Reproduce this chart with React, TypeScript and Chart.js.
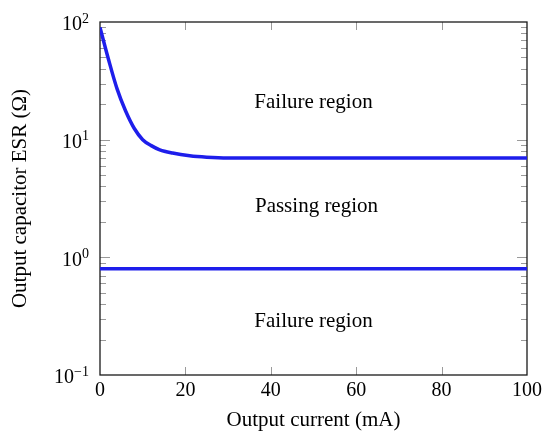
import React, { useEffect, useRef } from "react";
import { Chart, registerables } from "chart.js";

Chart.register(...registerables);

// Upper stability limit (ESR above this -> failure)
const currentMa = [0, 2, 4, 6, 8, 10, 12, 14, 17, 21, 25, 30, 40, 60, 80, 100];
const esrUpper = [90, 48, 27, 17.5, 12.5, 10, 8.9, 8.2, 7.7, 7.3, 7.1, 7.0, 7.0, 7.0, 7.0, 7.0];

// Lower stability limit (ESR below this -> failure)
const lowerCurrent = [0, 100];
const esrLower = [0.8, 0.8];

const xTickValues = [0, 20, 40, 60, 80, 100];
const yTickValues = [0.1, 1, 10, 100];
const yTickBase = "10";
const yTickExponents = ["−1", "0", "1", "2"];

const regionLabels = ["Failure region", "Passing region", "Failure region"];
const regionX = [50, 50.7, 50];
const regionY = [20.5, 2.68, 0.285];

const SERIF = "'Liberation Serif', 'Times New Roman', serif";
const LINE_COLOR = "rgb(30, 30, 235)";

const framePlugin = {
  id: "frameAndTicks",
  beforeDatasetsDraw(chart: any) {
    const { ctx, chartArea } = chart;
    const { left, right, top, bottom } = chartArea;
    const xs = chart.scales.x;
    const ys = chart.scales.y;
    ctx.save();
    ctx.strokeStyle = "#9a9a9a";
    ctx.lineWidth = 1;
    // x ticks, inward at top and bottom
    xTickValues.forEach((v) => {
      if (v === xTickValues[0] || v === xTickValues[xTickValues.length - 1]) return;
      const px = Math.round(xs.getPixelForValue(v)) + 0.5;
      ctx.beginPath();
      ctx.moveTo(px, bottom);
      ctx.lineTo(px, bottom - 8);
      ctx.moveTo(px, top);
      ctx.lineTo(px, top + 8);
      ctx.stroke();
    });
    // y ticks, major + minor, inward at left and right
    for (let d = 0; d < yTickValues.length - 1; d++) {
      const base = yTickValues[d];
      for (let m = 1; m <= 9; m++) {
        if (m === 1 && d === 0) continue;
        const py = Math.round(ys.getPixelForValue(base * m)) + 0.5;
        const len = m === 1 ? 10 : 6;
        ctx.beginPath();
        ctx.moveTo(left, py);
        ctx.lineTo(left + len, py);
        ctx.moveTo(right, py);
        ctx.lineTo(right - len, py);
        ctx.stroke();
      }
    }
    // frame
    ctx.strokeStyle = "#1a1a1a";
    ctx.lineWidth = 1.3;
    ctx.strokeRect(left, top, right - left, bottom - top);
    // region labels
    ctx.fillStyle = "#000";
    ctx.font = `21px ${SERIF}`;
    ctx.textAlign = "center";
    ctx.textBaseline = "middle";
    regionLabels.forEach((t, i) => {
      ctx.fillText(t, xs.getPixelForValue(regionX[i]), ys.getPixelForValue(regionY[i]));
    });
    ctx.restore();
  },
  afterDraw(chart: any) {
    const { ctx, chartArea } = chart;
    const ys = chart.scales.y;
    ctx.save();
    ctx.fillStyle = "#000";
    ctx.textBaseline = "middle";
    ctx.textAlign = "left";
    const rightEdge = chartArea.left - 11;
    yTickValues.forEach((v, i) => {
      const py = ys.getPixelForValue(v);
      const exp = yTickExponents[i];
      ctx.font = `14px ${SERIF}`;
      const ew = ctx.measureText(exp).width;
      ctx.font = `20px ${SERIF}`;
      const bw = ctx.measureText(yTickBase).width;
      const x0 = rightEdge - ew - bw;
      ctx.fillText(yTickBase, x0, py + 3);
      ctx.font = `14px ${SERIF}`;
      ctx.fillText(exp, x0 + bw, py - 3);
    });
    ctx.restore();
  },
};

export default function App() {
  const canvasRef = useRef<HTMLCanvasElement | null>(null);

  useEffect(() => {
    document.body.style.margin = "0";
    const canvas = canvasRef.current;
    if (!canvas) return;
    const chart = new Chart(canvas, {
      type: "line",
      data: {
        datasets: [
          {
            data: currentMa.map((x, i) => ({ x, y: esrUpper[i] })),
            borderColor: LINE_COLOR,
            borderWidth: 3.5,
            pointRadius: 0,
            fill: false,
            cubicInterpolationMode: "monotone",
          },
          {
            data: lowerCurrent.map((x, i) => ({ x, y: esrLower[i] })),
            borderColor: LINE_COLOR,
            borderWidth: 3.5,
            pointRadius: 0,
            fill: false,
          },
        ],
      },
      options: {
        animation: false,
        responsive: false,
        maintainAspectRatio: false,
        events: [],
        layout: { padding: { top: 22, right: 17, left: 0, bottom: 0 } },
        plugins: { legend: { display: false }, tooltip: { enabled: false } },
        scales: {
          x: {
            type: "linear",
            min: 0,
            max: 100,
            afterBuildTicks: (s: any) => {
              s.ticks = xTickValues.map((v) => ({ value: v }));
            },
            afterFit: (s: any) => {
              s.height = 60;
              s.paddingLeft = 0;
              s.paddingRight = 0;
            },
            grid: { display: false, drawTicks: false },
            border: { display: false },
            ticks: {
              font: { family: SERIF, size: 20 },
              color: "#000",
              padding: 4,
              maxRotation: 0,
              autoSkip: false,
            },
            title: {
              display: true,
              text: "Output current (mA)",
              font: { family: SERIF, size: 21 },
              color: "#000",
              padding: { top: 0, bottom: 2 },
            },
          },
          y: {
            type: "logarithmic",
            min: 0.1,
            max: 100,
            afterBuildTicks: (s: any) => {
              s.ticks = yTickValues.map((v) => ({ value: v }));
            },
            afterFit: (s: any) => {
              s.width = 100;
              s.paddingTop = 0;
              s.paddingBottom = 0;
            },
            grid: { display: false, drawTicks: false },
            border: { display: false },
            ticks: { display: false },
            title: {
              display: true,
              text: "Output capacitor ESR (Ω)",
              font: { family: SERIF, size: 21 },
              color: "#000",
              padding: { top: 8, bottom: 0 },
            },
          },
        },
      },
      plugins: [framePlugin],
    } as any);
    return () => chart.destroy();
  }, []);

  return (
    <div style={{ position: "absolute", left: 0, top: 0, width: 544, height: 435, background: "#fff" }}>
      <canvas ref={canvasRef} width={544} height={435} style={{ width: 544, height: 435 }} />
    </div>
  );
}
